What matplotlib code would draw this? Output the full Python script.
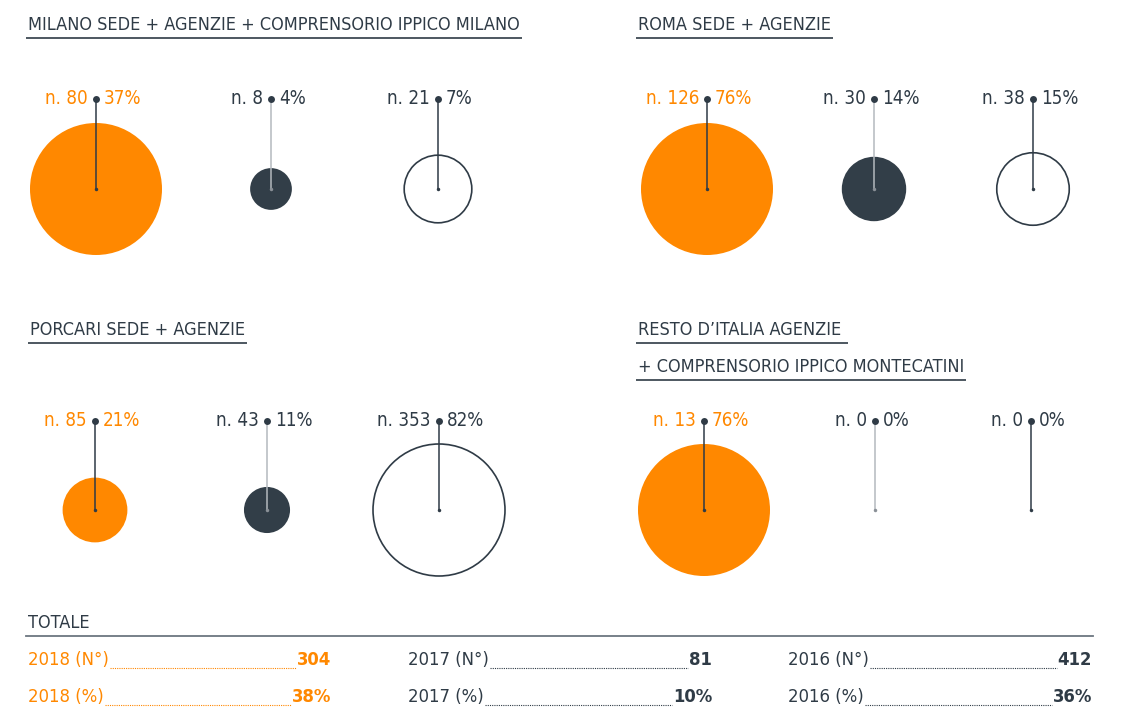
import matplotlib
matplotlib.use("Agg")
import matplotlib.pyplot as plt
from matplotlib.patches import Circle
from matplotlib import font_manager
import numpy as np

# ---- data ----
group_titles = [
    ["MILANO SEDE + AGENZIE + COMPRENSORIO IPPICO MILANO"],
    ["ROMA SEDE + AGENZIE"],
    ["PORCARI SEDE + AGENZIE"],
    ["RESTO D\u2019ITALIA AGENZIE ", "+ COMPRENSORIO IPPICO MONTECATINI"],
]
counts_milano = [80, 8, 21]
counts_roma = [126, 30, 38]
counts_porcari = [85, 43, 353]
counts_resto = [13, 0, 0]
pct_milano = [37, 4, 7]
pct_roma = [76, 14, 15]
pct_porcari = [21, 11, 82]
pct_resto = [76, 0, 0]

total_title = "TOTALE"
total_years = ["2018", "2017", "2016"]
total_n = ["304", "81", "412"]
total_pct = ["38%", "10%", "36%"]

# ---- style ----
ORANGE = "#ff8800"
DARK = "#2f3b46"
LIGHT = "#b4b9be"
GRAY = "#6c7680"

names = {f.name for f in font_manager.fontManager.ttflist}
if "Liberation Sans Narrow" in names:
    FAM = ["Liberation Sans Narrow", "DejaVu Sans"]
    STRETCH = "normal"
else:
    FAM = ["DejaVu Sans"]
    STRETCH = "condensed"
plt.rcParams["font.family"] = FAM

TITLE_FS = 13
LABEL_FS = 13.5
TOT_FS = 13.2

W, H = 1122, 710
fig = plt.figure(figsize=(W / 100, H / 100), dpi=100)
ax = fig.add_axes([0, 0, 1, 1])
ax.set_xlim(0, W)
ax.set_ylim(H, 0)
ax.axis("off")

fig.canvas.draw()
renderer = fig.canvas.get_renderer()


def text_extent(t):
    bb = t.get_window_extent(renderer=renderer)
    return bb.x0, bb.x1


def title(x, y, s, size=TITLE_FS, color=DARK, underline_y=None, lc=DARK):
    t = ax.text(x, y, s, fontsize=size, color=color, ha="left", va="center",
                fontstretch=STRETCH)
    x0, x1 = text_extent(t)
    if underline_y is not None:
        ax.plot([x0 - 2, x1 + 2], [underline_y, underline_y], color=lc, lw=1.2,
                solid_capstyle="butt")
    return t


groups = [
    (counts_milano, pct_milano),
    (counts_roma, pct_roma),
    (counts_porcari, pct_porcari),
    (counts_resto, pct_resto),
]
title_pos = [(28, 25), (638, 25), (30, 330), (638, 330)]
centers_x = [[96, 271, 438], [707, 874, 1033], [95, 267, 439], [704, 875, 1031]]
center_y = [189, 189, 510, 510]
label_y = [99, 99, 421, 421]
RMAX = 66

for g, (cnts, pcts) in enumerate(groups):
    tx, ty = title_pos[g]
    for li, line in enumerate(group_titles[g]):
        yy = ty + li * 37
        title(tx, yy, line, underline_y=yy + 13)
    mx = max(cnts)
    for i, (c, p) in enumerate(zip(cnts, pcts)):
        cx, cy, ly = centers_x[g][i], center_y[g], label_y[g]
        r = RMAX * np.sqrt(c / mx) if mx > 0 else 0
        if r > 0:
            if i == 0:
                ax.add_patch(Circle((cx, cy), r, facecolor=ORANGE, edgecolor="none", zorder=1))
            elif i == 1:
                ax.add_patch(Circle((cx, cy), r, facecolor="#323e48", edgecolor="none", zorder=1))
            else:
                ax.add_patch(Circle((cx, cy), r, facecolor="white", edgecolor=DARK, lw=1.2, zorder=1))
        lc = LIGHT if i == 1 else DARK
        ax.plot([cx, cx], [ly, cy], color=lc, lw=1.1, zorder=2)
        ax.plot([cx], [ly], marker="o", ms=5, color=DARK, mec="none", zorder=3)
        ax.plot([cx], [cy], marker="o", ms=2.5, color=("#8a9097" if i == 1 else DARK), mec="none", zorder=3)
        tc = ORANGE if i == 0 else DARK
        ax.text(cx - 8, ly, f"n. {c}", fontsize=LABEL_FS, color=tc, ha="right", va="center",
                fontstretch=STRETCH)
        ax.text(cx + 8, ly, f"{p}%", fontsize=LABEL_FS, color=tc, ha="left", va="center",
                fontstretch=STRETCH)

# ---- totals ----
ax.text(28, 623, total_title, fontsize=TITLE_FS, color=DARK, ha="left", va="center",
        fontstretch=STRETCH)
ax.plot([26, 1093], [636, 636], color=GRAY, lw=1.3)

col_x0 = [28, 408, 788]
col_x1 = [331, 712, 1092]
row_y = [660, 697]
for j in range(3):
    col = ORANGE if j == 0 else DARK
    for k, (lab, val) in enumerate([(f"{total_years[j]} (N\u00b0)", total_n[j]),
                                    (f"{total_years[j]} (%)", total_pct[j])]):
        y = row_y[k]
        t1 = ax.text(col_x0[j], y, lab, fontsize=TOT_FS, color=col, ha="left", va="center",
                     fontstretch=STRETCH)
        t2 = ax.text(col_x1[j], y, val, fontsize=TOT_FS, color=col, ha="right", va="center",
                     fontweight="bold", fontstretch=STRETCH)
        a0, a1 = text_extent(t1)
        b0, b1 = text_extent(t2)
        ax.plot([a1 + 1, b0 - 1], [y + 8, y + 8], color=col, lw=0.8, ls=(0, (1, 1)))

fig.savefig("out.png", dpi=100)
